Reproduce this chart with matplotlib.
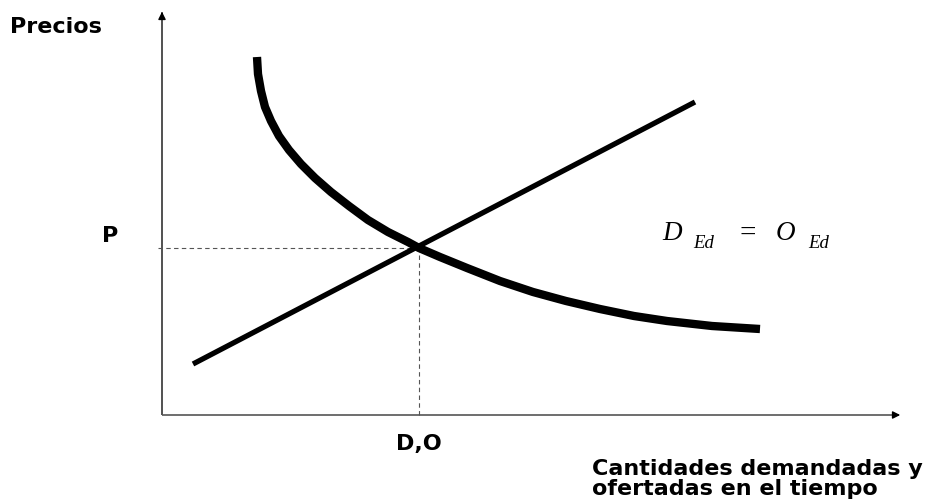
import matplotlib.pyplot as plt

# curvas (cantidad, precio) con origen en el cruce de ejes
demand_q = [95, 96, 99, 103, 109, 117, 127, 139, 153, 169, 187, 206, 226,
            246, 257, 278, 305, 338, 371, 404, 438, 472, 505, 550, 598]
demand_p = [358, 341, 324, 308, 294, 279, 265, 251, 237, 223, 209, 195, 183,
            173, 167, 158, 147, 134, 123, 114, 106, 99, 94, 89, 86]
supply_q = [31, 533]
supply_p = [51, 313]
eq_q, eq_p = 257, 167
x_max, y_max = 741, 406

fig = plt.figure(figsize=(9.3, 5.02), dpi=100)
ax = fig.add_axes([0, 0, 1, 1])
ax.set_xlim(-162, 768)
ax.set_ylim(-86, 416)
ax.axis("off")

# ejes con flecha
ax.plot([0, 0], [0, y_max - 6], color="#333333", lw=1.2, solid_capstyle="butt")
ax.plot([0, x_max - 8], [0, 0], color="#555555", lw=1.2, solid_capstyle="butt")
ax.annotate("", xy=(0, y_max), xytext=(0, y_max - 8),
            arrowprops=dict(arrowstyle="-|>", color="black", lw=1, mutation_scale=11))
ax.annotate("", xy=(x_max, 0), xytext=(x_max - 10, 0),
            arrowprops=dict(arrowstyle="-|>", color="black", lw=1, mutation_scale=11))

# lineas punteadas al equilibrio
ax.plot([-4, eq_q], [eq_p, eq_p], color="#555555", lw=0.8, ls=(0, (4, 3)))
ax.plot([eq_q, eq_q], [0, eq_p], color="#555555", lw=0.8, ls=(0, (4, 3)))

ax.plot(demand_q, demand_p, color="black", lw=6, solid_capstyle="butt", solid_joinstyle="round")
ax.plot(supply_q, supply_p, color="black", lw=3.8, solid_capstyle="butt")

bold = dict(family="DejaVu Sans", fontweight="bold", fontsize=16, color="black")
ax.text(-152, 383, "Precios", ha="left", va="baseline", **bold)
ax.text(-52, 174, "P", ha="center", va="baseline", **bold)
ax.text(eq_q, -34, "D,O", ha="center", va="baseline", **bold)
ax.text(430, -59, "Cantidades demandadas y", ha="left", va="baseline", **bold)
ax.text(430, -79, "ofertadas en el tiempo", ha="left", va="baseline", **bold)

serif = dict(family="Liberation Serif", style="italic", color="black")
ax.text(500, 176, "D", ha="left", va="baseline", fontsize=19.5, **serif)
ax.text(531, 168, "Ed", ha="left", va="baseline", fontsize=13.5, **serif)
ax.text(577, 175, "=", ha="left", va="baseline", fontsize=21, family="Liberation Serif", color="black")
ax.text(614, 176, "O", ha="left", va="baseline", fontsize=19.5, **serif)
ax.text(646, 168, "Ed", ha="left", va="baseline", fontsize=13.5, **serif)

fig.savefig("out.png", dpi=100)
